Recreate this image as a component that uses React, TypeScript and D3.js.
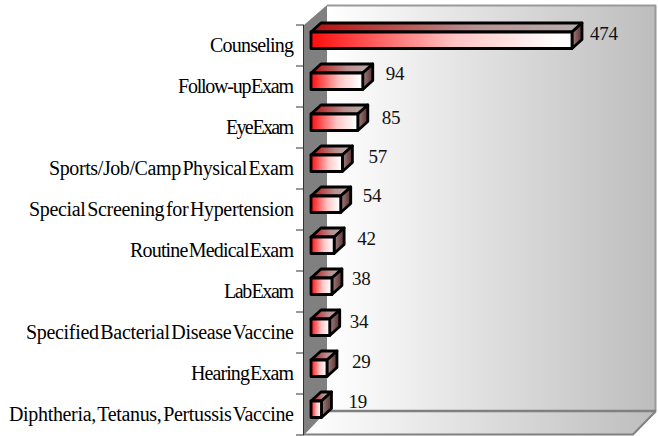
import React from "react";
import * as d3 from "d3";

const categories = ["Counseling","Follow-up Exam","Eye Exam","Sports/Job/Camp Physical Exam","Special Screening for Hypertension","Routine Medical Exam","Lab Exam","Specified Bacterial Disease Vaccine","Hearing Exam","Diphtheria, Tetanus, Pertussis Vaccine"];
const values = [474,94,85,57,54,42,38,34,29,19];
const labelGaps = [18,23,24,26,22,23,20,20,25,27];
const labelDrops = [0,-1,2,0,-2,0,-1,1,0,-1];
const labelWidths = [84,116,68,245,265,164,70,268,103,285];

const W = 658, H = 436;
const wallL = 304, backL = 327, backR = 656, backT = 5, frontT = 25, backB = 411, frontB = 435;
const dx = 10, dy = 9, barH = 16.5;

export default function App() {
  const x = d3.scaleLinear().domain([0, 474]).range([311, 572]);
  const y = d3.scaleBand<string>().domain(categories).range([frontT, frontB]);
  const bw = y.bandwidth();
  return (
    <svg width={W} height={H} style={{ position: "absolute", left: 0, top: 0, background: "#fff" }} fontFamily="'Liberation Serif'">
      <defs>
        <linearGradient id="back"><stop offset="0" stopColor="#fff" /><stop offset="1" stopColor="#bdbdbd" /></linearGradient>
        <linearGradient id="front"><stop offset="0" stopColor="#ff0c0c" /><stop offset="0.55" stopColor="#ffc4c4" /><stop offset="0.95" stopColor="#fff" /><stop offset="1" stopColor="#fff" /></linearGradient>
        <linearGradient id="top"><stop offset="0" stopColor="#b80c0c" /><stop offset="0.6" stopColor="#b89090" /><stop offset="1" stopColor="#b8b0b0" /></linearGradient>
        <linearGradient id="side"><stop offset="0" stopColor="#a08080" /><stop offset="1" stopColor="#5a3030" /></linearGradient>
      </defs>
      <rect x={backL} y={backT} width={backR - backL} height={backB - backT} fill="url(#back)" />
      <path d={`M${wallL},${frontB}L${backL},${backB}H${backR}L${backR - 23},${frontB}Z`} fill="url(#back)" />
      <path d={`M${wallL},${frontT}L${backL},${backT}V${backB}L${wallL},${frontB}Z`} fill="#808080" />
      <path d={`M${backL},${backT + 0.5}H${backR}M${backR - 0.5},${backT}V${backB}`} stroke="#999" strokeWidth={2} fill="none" />
      <path d={`M${backL},${backB}H${backR}`} stroke="#808080" strokeWidth={2.5} fill="none" />
      <path d={`M${wallL},${frontB - 0.5}H${backR - 23}L${backR},${backB}`} stroke="#808080" strokeWidth={2} fill="none" />
      <path d={`M${wallL - 0.5},${frontT}V${frontB}`} stroke="#333" strokeWidth={1} fill="none" />
      {d3.range(categories.length + 1).map(i => (
        <line key={i} x1={296} x2={wallL} y1={frontT + i * bw} y2={frontT + i * bw} stroke="#333" strokeWidth={1} />
      ))}
      {categories.map((c, i) => {
        const t = (y(c) as number) + 7;
        const x0 = x(0), x1 = x(values[i]);
        const b = t + barH;
        return (
          <g key={c} stroke="#000" strokeWidth={2.8} strokeLinejoin="round">
            <path d={`M${x0},${t}L${x0 + dx},${t - dy}H${x1 + dx}L${x1},${t}Z`} fill="url(#top)" />
            <path d={`M${x1},${t}L${x1 + dx},${t - dy}V${b - dy}L${x1},${b}Z`} fill="url(#side)" />
            <rect x={x0} y={t} width={x1 - x0} height={barH} fill="url(#front)" />
          </g>
        );
      })}
      {categories.map((c, i) => (
        <text key={c} x={294} y={(y(c) as number) + 27} textAnchor="end" fontSize={20} wordSpacing={-3} textLength={labelWidths[i]} lengthAdjust="spacing" fill="#000">{c}</text>
      ))}
      {values.map((v, i) => (
        <text key={i} x={x(v) + labelGaps[i]} y={(y(categories[i]) as number) + 15 + labelDrops[i]} fontSize={19} letterSpacing={-0.2} fill="#111">{v}</text>
      ))}
    </svg>
  );
}
